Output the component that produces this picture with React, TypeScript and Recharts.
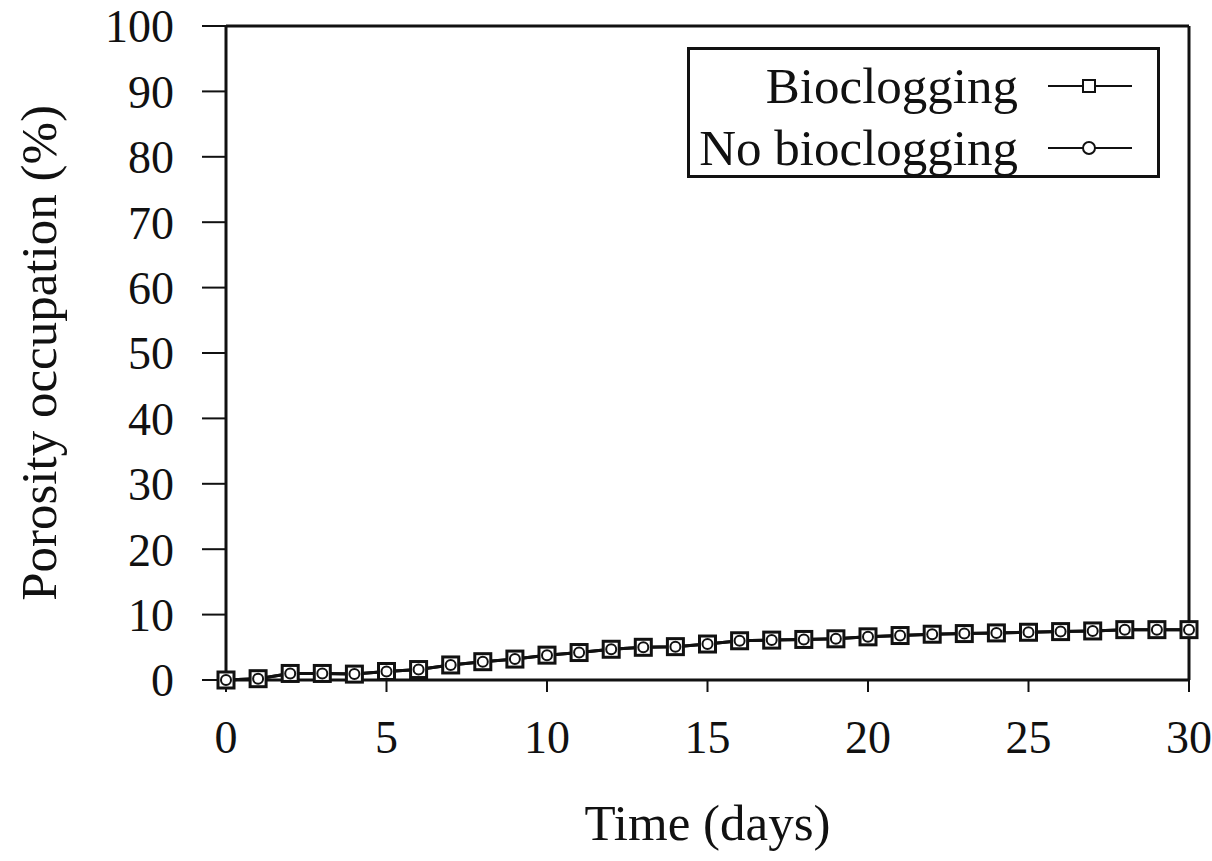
import React from 'react';
import { LineChart, Line, XAxis, YAxis, ReferenceLine } from 'recharts';

const FONT = '"Liberation Serif", "Times New Roman", serif';
const INK = '#111';

// days 0..30
const days = [0, 1, 2, 3, 4, 5, 6, 7, 8, 9, 10, 11, 12, 13, 14, 15, 16, 17, 18, 19, 20, 21, 22, 23, 24, 25, 26, 27, 28, 29, 30];
const bioclogging = [0, 0.2, 1.0, 1.0, 0.9, 1.3, 1.6, 2.3, 2.8, 3.2, 3.8, 4.2, 4.7, 5.0, 5.1, 5.5, 6.0, 6.1, 6.2, 6.3, 6.6, 6.8, 7.0, 7.1, 7.2, 7.3, 7.4, 7.5, 7.7, 7.7, 7.7];
const noBioclogging = [0, 0.2, 1.0, 1.0, 0.9, 1.3, 1.6, 2.3, 2.8, 3.2, 3.8, 4.2, 4.7, 5.0, 5.1, 5.5, 6.0, 6.1, 6.2, 6.3, 6.6, 6.8, 7.0, 7.1, 7.2, 7.3, 7.4, 7.5, 7.7, 7.7, 7.7];
const xTicks = [0, 5, 10, 15, 20, 25, 30];
const yTicks = [0, 10, 20, 30, 40, 50, 60, 70, 80, 90, 100];
const seriesNames = ['Bioclogging', 'No bioclogging'];

const data = days.map((d, i) => ({ day: d, bio: bioclogging[i], noBio: noBioclogging[i] }));

const SquareDot = (props: any) => {
  const { cx, cy, index } = props;
  if (cx == null || cy == null) return <g key={`s-${index}`} />;
  return <rect key={`s-${index}`} x={cx - 8} y={cy - 8} width={16} height={16} fill="#fff" stroke={INK} strokeWidth={3} />;
};

const CircleDot = (props: any) => {
  const { cx, cy, index } = props;
  if (cx == null || cy == null) return <g key={`c-${index}`} />;
  return <circle key={`c-${index}`} cx={cx} cy={cy} r={5} fill="none" stroke={INK} strokeWidth={2} />;
};

// legend drawn as an overlay so it doesn't shrink the plot area
const LegendBox = () => (
  <div style={{
    position: 'absolute', left: 687, top: 47, width: 473, height: 131, boxSizing: 'border-box',
    border: `3px solid ${INK}`, background: '#fff',
    fontFamily: FONT, fontSize: 51, color: INK, paddingTop: 5
  }}>
    {seriesNames.map((name, i) => (
      <div key={name} style={{ display: 'flex', alignItems: 'center', height: 62 }}>
        <div style={{ width: 328, textAlign: 'right', lineHeight: '62px', whiteSpace: 'nowrap' }}>{name}</div>
        <svg width={90} height={30} style={{ marginLeft: 30 }}>
          <line x1={0} y1={15} x2={84} y2={15} stroke={INK} strokeWidth={2} />
          {i === 0
            ? <rect x={35} y={9} width={12} height={12} fill="#fff" stroke={INK} strokeWidth={2} />
            : <circle cx={41} cy={15} r={6} fill="#fff" stroke={INK} strokeWidth={2} />}
        </svg>
      </div>
    ))}
  </div>
);

export default function App() {
  return (
    <div style={{ position: 'absolute', left: 0, top: 0, width: 1212, height: 861, background: '#fff' }}>
      <LineChart width={1212} height={861} data={data} margin={{ top: 26, right: 23, left: 0, bottom: 0 }}>
        <XAxis
          dataKey="day" type="number" domain={[0, 30]} ticks={xTicks}
          axisLine={{ stroke: INK, strokeWidth: 3 }} tickLine={{ stroke: INK, strokeWidth: 2 }}
          tickSize={12} tickMargin={28} height={181}
          tick={{ fill: INK, fontFamily: FONT, fontSize: 46 }}
          label={{
            content: ({ viewBox }: any) => (
              <text x={viewBox.x + viewBox.width / 2} y={viewBox.y + 160} textAnchor="middle"
                fontFamily={FONT} fontSize={51} fill={INK}>Time (days)</text>
            ),
          }}
        />
        <YAxis
          type="number" domain={[0, 100]} ticks={yTicks} interval={0}
          axisLine={{ stroke: INK, strokeWidth: 3 }} tickLine={{ stroke: INK, strokeWidth: 2 }}
          tickSize={24} tickMargin={28} width={226}
          tick={{ fill: INK, fontFamily: FONT, fontSize: 46 }}
          label={{
            content: ({ viewBox }: any) => {
              const cy = viewBox.y + viewBox.height / 2;
              return (
                <text x={56} y={cy} textAnchor="middle" transform={`rotate(-90 56 ${cy})`}
                  fontFamily={FONT} fontSize={51} fill={INK}>Porosity occupation (%)</text>
              );
            },
          }}
        />
        <ReferenceLine y={100} stroke={INK} strokeWidth={3} />
        <ReferenceLine x={30} stroke={INK} strokeWidth={3} />
        <Line type="linear" dataKey="bio" name={seriesNames[0]} stroke={INK} strokeWidth={3}
          dot={SquareDot} activeDot={false} isAnimationActive={false} />
        <Line type="linear" dataKey="noBio" name={seriesNames[1]} stroke={INK} strokeWidth={3}
          dot={CircleDot} activeDot={false} isAnimationActive={false} />
      </LineChart>
      <LegendBox />
    </div>
  );
}
